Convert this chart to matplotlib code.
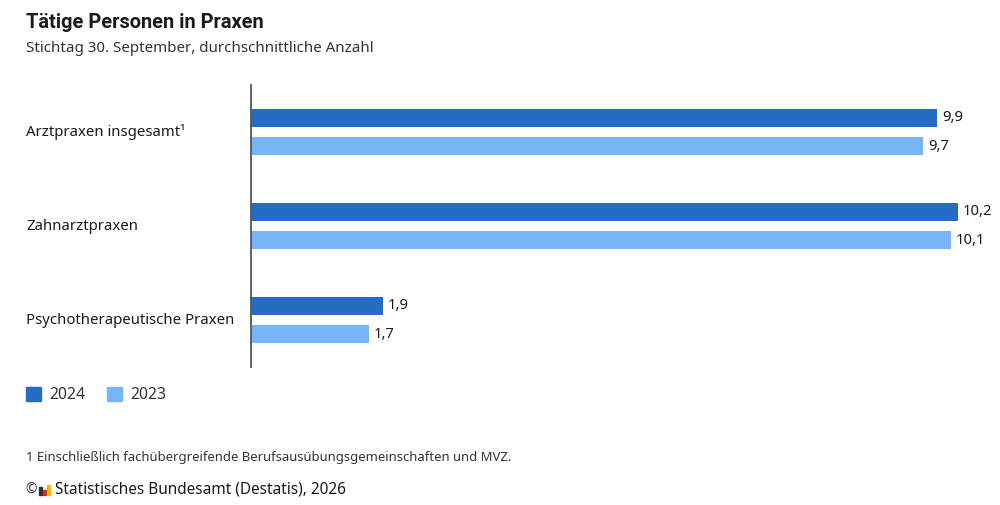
import matplotlib
matplotlib.use("Agg")
import matplotlib.pyplot as plt
from matplotlib.patches import Patch, Rectangle
from matplotlib.transforms import blended_transform_factory
import numpy as np

categories = ["Arztpraxen insgesamt¹", "Zahnarztpraxen", "Psychotherapeutische Praxen"]
values_2024 = [9.9, 10.2, 1.9]
values_2023 = [9.7, 10.1, 1.7]
series_labels = ["2024", "2023"]

DARK = "#266cc6"
LIGHT = "#78b5f7"
TEXT = "#1a1a1a"

plt.rcParams["font.family"] = ["Noto Sans", "DejaVu Sans"]

W, H = 1000, 505
fig = plt.figure(figsize=(W / 100, H / 100), dpi=100)


def fx(px):
    return px / W


def fy(py):
    return 1 - py / H


# axes spans x 251..990 px, y 85..367 px
ax = fig.add_axes([fx(251), fy(367), fx(990 - 251), (367 - 85) / H])

y = np.arange(len(categories))
off = 0.149
h = 0.19
ax.barh(y - off, values_2024, height=h, color=DARK)
ax.barh(y + off, values_2023, height=h, color=LIGHT)

for yi, v in zip(y - off, values_2024):
    ax.text(v + 0.07, yi, f"{v:.1f}".replace(".", ","), va="center", ha="left",
            fontsize=10.6, color=TEXT)
for yi, v in zip(y + off, values_2023):
    ax.text(v + 0.07, yi, f"{v:.1f}".replace(".", ","), va="center", ha="left",
            fontsize=10.6, color=TEXT)

ax.set_xlim(0, (990 - 251) / 69.3)
ax.set_ylim(2.5, -0.5)
for s in ["top", "right", "bottom"]:
    ax.spines[s].set_visible(False)
ax.spines["left"].set_color("#555555")
ax.spines["left"].set_linewidth(1.3)
ax.set_xticks([])
ax.set_yticks([])

# category labels, left-aligned at the figure edge
lab_tr = blended_transform_factory(fig.transFigure, ax.transData)
for yi, cat in zip(y, categories):
    ax.text(fx(26), yi, cat, transform=lab_tr, ha="left", va="center",
            fontsize=10.75, color=TEXT)

fig.text(fx(26), fy(22), "Tätige Personen in Praxen", fontsize=14.4, fontweight="bold",
         family=["Roboto", "DejaVu Sans"], color=TEXT, va="center", ha="left")
fig.text(fx(26), fy(49), "Stichtag 30. September, durchschnittliche Anzahl", fontsize=10.9,
         color="#333333", va="center", ha="left")

handles = [Patch(color=DARK), Patch(color=LIGHT)]
fig.legend(handles, series_labels, loc="center left", bbox_to_anchor=(fx(12), fy(395)),
           ncol=2, frameon=False, fontsize=11.3, handlelength=0.96, handleheight=0.96,
           handletextpad=0.5, columnspacing=1.4, labelcolor="#333333")

fig.text(fx(26), fy(457), "1 Einschließlich fachübergreifende Berufsausübungsgemeinschaften und MVZ.",
         fontsize=9.45, color="#333333", va="center", ha="left")

fig.text(fx(25), fy(490), "©", fontsize=10, color="#333333", va="center", ha="left")
# small bar icon
for x0, hh, c in [(39, 8, "#333333"), (43, 5, "#d9232a"), (47, 10, "#f5b800")]:
    fig.patches.append(Rectangle((fx(x0), fy(495)), fx(3), hh / H, transform=fig.transFigure,
                                 color=c))
fig.text(fx(55), fy(490), "Statistisches Bundesamt (Destatis), 2026", fontsize=11.05,
         color=TEXT, va="center", ha="left")

fig.savefig("out.png", dpi=100)
